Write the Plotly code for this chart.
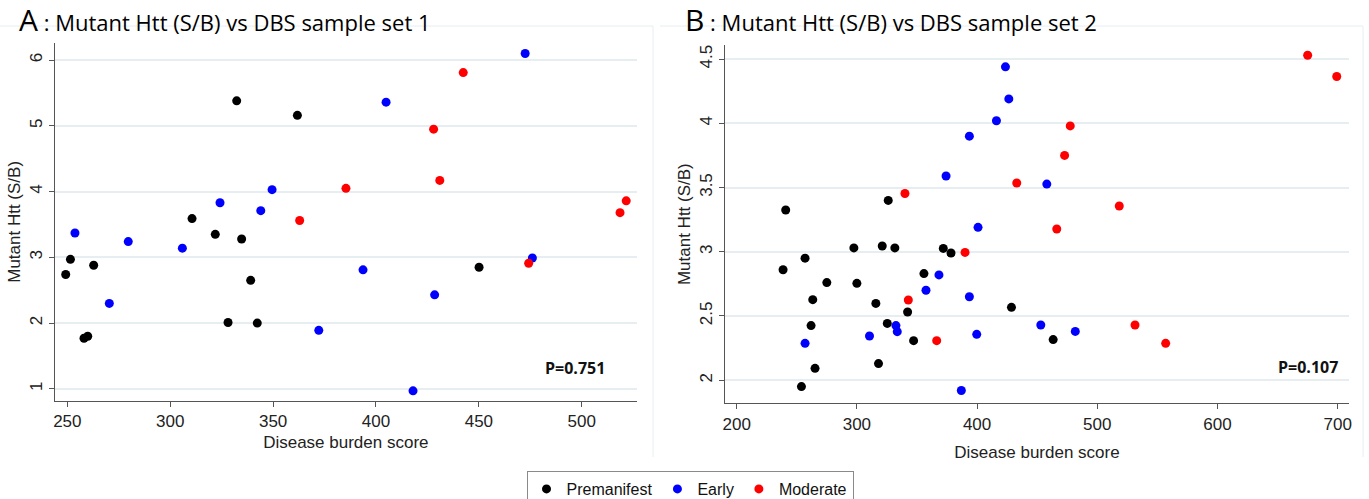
import plotly.graph_objects as go

W, H = 1369, 499

# ---------------- Panel A data (sample set 1) ----------------
a_pre_x = [249.2, 251.5, 262.8, 258.1, 259.9, 310.6, 321.9, 332.3, 334.7, 328.1, 339.1, 342.3, 361.8, 450.1]
a_pre_y = [2.74, 2.97, 2.88, 1.77, 1.80, 3.59, 3.35, 5.38, 3.28, 2.01, 2.65, 2.00, 5.16, 2.85]
a_early_x = [253.7, 270.4, 279.6, 305.9, 324.2, 344.0, 349.5, 372.2, 393.7, 404.9, 418.0, 428.5, 472.5, 476.0]
a_early_y = [3.37, 2.30, 3.24, 3.14, 3.83, 3.71, 4.03, 1.89, 2.81, 5.36, 0.97, 2.43, 6.10, 2.99]
a_mod_x = [362.9, 385.4, 428.0, 431.0, 442.4, 474.2, 518.6, 521.6]
a_mod_y = [3.56, 4.05, 4.95, 4.17, 5.81, 2.91, 3.68, 3.86]

# ---------------- Panel B data (sample set 2) ----------------
b_pre_x = [240.8, 256.9, 238.6, 275.0, 297.5, 300.0, 321.1, 326.1, 331.6, 371.9, 378.3, 355.8,
           263.3, 315.8, 342.2, 261.9, 325.3, 347.2, 318.0, 265.2, 253.9, 428.6, 463.3]
b_pre_y = [3.325, 2.95, 2.86, 2.76, 3.03, 2.754, 3.045, 3.40, 3.03, 3.026, 2.99, 2.83,
           2.627, 2.598, 2.531, 2.425, 2.442, 2.308, 2.129, 2.092, 1.95, 2.567, 2.316]
b_early_x = [423.6, 426.4, 416.1, 393.6, 374.2, 400.8, 458.0, 368.3, 357.5, 393.6, 332.5, 333.6,
             310.5, 399.7, 256.9, 386.9, 453.0, 481.7]
b_early_y = [4.44, 4.19, 4.02, 3.90, 3.59, 3.19, 3.527, 2.82, 2.70, 2.65, 2.425, 2.378,
             2.344, 2.357, 2.287, 1.92, 2.43, 2.38]
b_mod_x = [675.0, 699.2, 477.5, 472.8, 433.0, 340.0, 518.3, 466.3, 390.0, 342.8, 366.4, 531.4, 556.9]
b_mod_y = [4.53, 4.365, 3.98, 3.75, 3.535, 3.454, 3.356, 3.177, 2.995, 2.624, 2.308, 2.43, 2.287]

groups = ["Premanifest", "Early", "Moderate"]
colors = ["#000000", "#0000ff", "#ff0000"]

a_ticks_x = [250, 300, 350, 400, 450, 500]
a_ticks_y = [1, 2, 3, 4, 5, 6]
b_ticks_x = [200, 300, 400, 500, 600, 700]
b_ticks_y = [2, 2.5, 3, 3.5, 4, 4.5]
b_ticktext_y = ["2", "2.5", "3", "3.5", "4", "4.5"]

p_a = "P=0.751"
p_b = "P=0.107"

fig = go.Figure()

a_sets = [(a_pre_x, a_pre_y), (a_early_x, a_early_y), (a_mod_x, a_mod_y)]
b_sets = [(b_pre_x, b_pre_y), (b_early_x, b_early_y), (b_mod_x, b_mod_y)]

for (xs, ys), name, c in zip(a_sets, groups, colors):
    fig.add_trace(go.Scatter(x=xs, y=ys, mode="markers", name=name,
                             marker=dict(color=c, size=9, line=dict(width=0)),
                             xaxis="x", yaxis="y", legendgroup=name, showlegend=True))
for (xs, ys), name, c in zip(b_sets, groups, colors):
    fig.add_trace(go.Scatter(x=xs, y=ys, mode="markers", name=name,
                             marker=dict(color=c, size=9, line=dict(width=0)),
                             xaxis="x2", yaxis="y2", legendgroup=name, showlegend=False))

AX_FONT = dict(family="Arial, Liberation Sans, sans-serif", size=17, color="#222222")
axis_common = dict(showline=True, linecolor="#555555", linewidth=1, ticks="outside",
                   ticklen=5, tickcolor="#555555", zeroline=False, tickfont=AX_FONT,
                   automargin=False)

fig.update_layout(
    template="none",
    width=W, height=H,
    margin=dict(l=0, r=0, t=0, b=0, autoexpand=False),
    paper_bgcolor="white", plot_bgcolor="white",
    xaxis=dict(domain=[55 / W, 636.7 / W], range=[244.0, 526.7], tickvals=a_ticks_x,
               showgrid=False, anchor="y",
               title=dict(text="Disease burden score", font=AX_FONT, standoff=6),
               **axis_common),
    yaxis=dict(domain=[(H - 400.7) / H, (H - 43) / H], range=[0.82, 6.26], tickvals=a_ticks_y,
               tickangle=-90, showgrid=True, gridcolor="#e6eef1", gridwidth=2, anchor="x",
               title=dict(text="Mutant Htt (S/B)", font=AX_FONT, standoff=2),
               **axis_common),
    xaxis2=dict(domain=[725 / W, 1349 / W], range=[190.3, 709.4], tickvals=b_ticks_x,
                showgrid=False, anchor="y2",
                title=dict(text="Disease burden score", font=AX_FONT, standoff=13),
                **axis_common),
    yaxis2=dict(domain=[(H - 403.3) / H, (H - 45) / H], range=[1.82, 4.61], tickvals=b_ticks_y,
                ticktext=b_ticktext_y, tickangle=-90, showgrid=True, gridcolor="#e6eef1",
                gridwidth=2, anchor="x2",
                title=dict(text="Mutant Htt (S/B)", font=AX_FONT, standoff=2),
                **axis_common),
    legend=dict(orientation="h", x=690 / W, xanchor="center", y=(H - 471) / H, yanchor="top",
                bordercolor="#8a8a8a", borderwidth=1, bgcolor="white", itemwidth=30,
                font=dict(family="Arial, Liberation Sans, sans-serif", size=16, color="#111111")),
    showlegend=True,
)

TITLE_FONT = dict(family="Open Sans, Lato, sans-serif", size=22, color="#000000")
fig.add_annotation(text='<span style="font-size:30px">A</span> : Mutant Htt (S/B) vs DBS sample set 1',
                   xref="paper", yref="paper", x=17 / W, y=(H - 42) / H, xanchor="left",
                   yanchor="bottom", showarrow=False, font=TITLE_FONT)
fig.add_annotation(text='<span style="font-size:30px">B</span> : Mutant Htt (S/B) vs DBS sample set 2',
                   xref="paper", yref="paper", x=683 / W, y=(H - 42) / H, xanchor="left",
                   yanchor="bottom", showarrow=False, font=TITLE_FONT)

P_FONT = dict(family="Open Sans, Arial, sans-serif", size=16, color="#111111", weight="bold")
fig.add_annotation(text=p_a, xref="x", yref="y", x=496.5, y=1.32, showarrow=False, font=P_FONT)
fig.add_annotation(text=p_b, xref="x2", yref="y2", x=675.5, y=2.10, showarrow=False, font=P_FONT)

# faint panel frames
frame = "#e8eef1"
fig.add_shape(type="line", xref="paper", yref="paper", x0=0, x1=653 / W,
              y0=(H - 26) / H, y1=(H - 26) / H, line=dict(color=frame, width=1))
fig.add_shape(type="line", xref="paper", yref="paper", x0=653 / W, x1=653 / W,
              y0=(H - 26) / H, y1=(H - 457) / H, line=dict(color=frame, width=1))
fig.add_shape(type="line", xref="paper", yref="paper", x0=660 / W, x1=1363 / W,
              y0=(H - 26) / H, y1=(H - 26) / H, line=dict(color=frame, width=1))
fig.add_shape(type="line", xref="paper", yref="paper", x0=1363 / W, x1=1363 / W,
              y0=(H - 26) / H, y1=(H - 457) / H, line=dict(color=frame, width=1))

fig.write_html("out.html")
